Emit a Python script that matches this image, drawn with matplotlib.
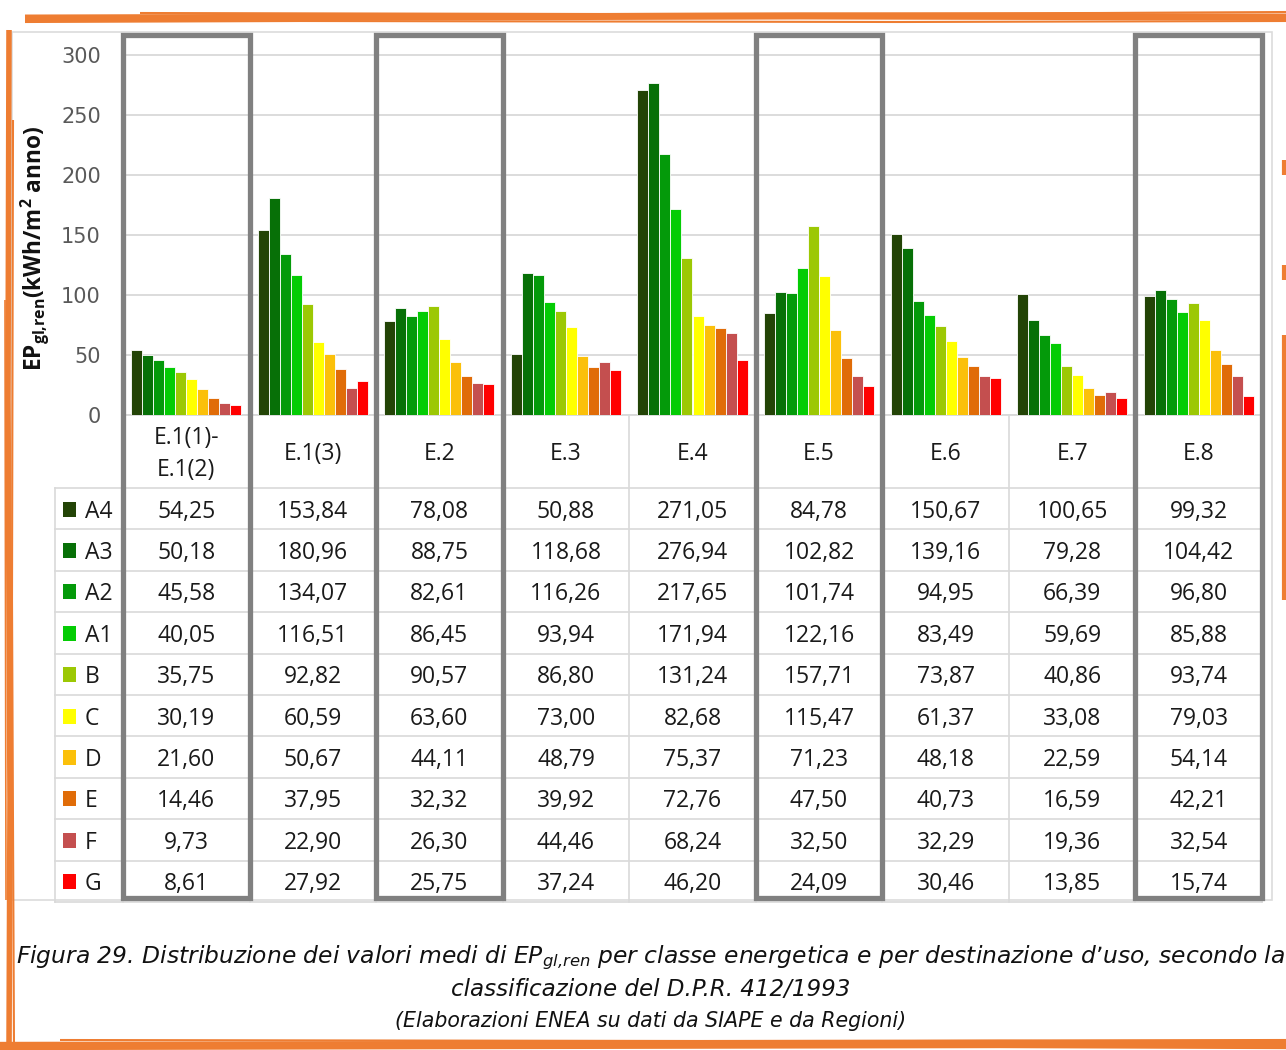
import matplotlib

matplotlib.use("Agg")
import matplotlib.pyplot as plt
from matplotlib.patches import Rectangle

W, H = 1286, 1050

# dati: EPgl,ren medio per classe energetica e destinazione d'uso
categorie = ["E.1(1)-\nE.1(2)", "E.1(3)", "E.2", "E.3", "E.4", "E.5", "E.6", "E.7", "E.8"]
classi = ["A4", "A3", "A2", "A1", "B", "C", "D", "E", "F", "G"]
a4 = [54.25, 153.84, 78.08, 50.88, 271.05, 84.78, 150.67, 100.65, 99.32]
a3 = [50.18, 180.96, 88.75, 118.68, 276.94, 102.82, 139.16, 79.28, 104.42]
a2 = [45.58, 134.07, 82.61, 116.26, 217.65, 101.74, 94.95, 66.39, 96.80]
a1 = [40.05, 116.51, 86.45, 93.94, 171.94, 122.16, 83.49, 59.69, 85.88]
b = [35.75, 92.82, 90.57, 86.80, 131.24, 157.71, 73.87, 40.86, 93.74]
c = [30.19, 60.59, 63.60, 73.00, 82.68, 115.47, 61.37, 33.08, 79.03]
d = [21.60, 50.67, 44.11, 48.79, 75.37, 71.23, 48.18, 22.59, 54.14]
e = [14.46, 37.95, 32.32, 39.92, 72.76, 47.50, 40.73, 16.59, 42.21]
f = [9.73, 22.90, 26.30, 44.46, 68.24, 32.50, 32.29, 19.36, 32.54]
g = [8.61, 27.92, 25.75, 37.24, 46.20, 24.09, 30.46, 13.85, 15.74]
serie = [a4, a3, a2, a1, b, c, d, e, f, g]
colori = ["#234406", "#077007", "#049a0a", "#04cc04", "#9cc804",
          "#ffff00", "#fbc00a", "#e06c08", "#c44f4f", "#ff0000"]
evidenziate = [0, 2, 5, 8]  # colonne incorniciate

GRIGIO_GRIGLIA = "#d9d9d9"
GRIGIO_BOX = "#808080"
TESTO = "#1a1a1a"
ARANCIO = "#ee7d32"

plt.rcParams["mathtext.default"] = "regular"

fig = plt.figure(figsize=(W / 100, H / 100), dpi=100)


def px(x0, y0, x1, y1):
    """rettangolo in pixel (origine in alto a sinistra) -> frazioni figura"""
    return [x0 / W, 1 - y1 / H, (x1 - x0) / W, (y1 - y0) / H]


# sfondo: bordo area grafico
bg = fig.add_axes([0, 0, 1, 1], zorder=-5)
bg.set_xlim(0, W)
bg.set_ylim(H, 0)
bg.axis("off")
bg.add_patch(Rectangle((12, 32), 1272 - 12, 868, fill=False, ec="#dcdcdc", lw=1.2))

# istogramma
X0, X1, Y0, Y1 = 123, 1262, 35, 415
ax = fig.add_axes(px(X0, Y0, X1, Y1))
n = len(categorie)
ymax = (Y1 - Y0) / 1.2  # 60 px ogni 50
ax.set_xlim(-0.5, n - 0.5)
ax.set_ylim(0, ymax)
larg = 0.087
for j, (vals, col) in enumerate(zip(serie, colori)):
    xs = [i + (j - 4.5) * larg for i in range(n)]
    ax.bar(xs, vals, width=larg, color=col, edgecolor="white", linewidth=0.6, zorder=3)
ax.set_yticks(range(0, 301, 50))
ax.set_xticks([])
ax.tick_params(axis="y", length=0, pad=16, labelsize=15, labelcolor="#595959")
ax.grid(axis="y", color=GRIGIO_GRIGLIA, lw=1.3, zorder=0)
for s in ["top", "right", "left"]:
    ax.spines[s].set_visible(False)
ax.spines["bottom"].set_color(GRIGIO_GRIGLIA)
ax.spines["bottom"].set_linewidth(1.3)

fig.text(35 / W, 1 - 248 / H, r"EP$_{gl{,}ren}$(kWh/m$^2$ anno)", rotation=90,
         ha="center", va="center", fontsize=16.3, fontweight="bold",
         family="Open Sans", color="#111111")

# tabella dati
T0, T1 = 415, 902
HEAD = 73 / 41.4
tab = fig.add_axes(px(X0, T0, X1, T1))
tab.set_xlim(-0.5, n - 0.5)
tab.set_ylim(HEAD + len(classi), 0)
tab.axis("off")
sinistra = -0.5 - (X0 - 55) / ((X1 - X0) / n)
dy = 0.07
kw = dict(ha="center", va="center", fontsize=16.5, color=TESTO, family="Open Sans")
for i, cat in enumerate(categorie):
    tab.text(i, HEAD / 2 + dy, cat, linespacing=1.45, **kw)
    for r, vals in enumerate(serie):
        tab.text(i, HEAD + r + 0.5 + dy, f"{vals[i]:.2f}".replace(".", ","), **kw)
for r, (cl, col) in enumerate(zip(classi, colori)):
    tab.add_patch(Rectangle((sinistra + 0.06, HEAD + r + 0.33), 0.105, 0.36,
                            fc=col, ec="none", clip_on=False))
    tab.text(sinistra + 0.235, HEAD + r + 0.5 + dy, cl, ha="left", va="center",
             fontsize=16.5, color=TESTO, family="Open Sans", clip_on=False)
for r in range(len(classi) + 1):
    tab.plot([sinistra, n - 0.5], [HEAD + r] * 2, color=GRIGIO_GRIGLIA, lw=1.2,
             clip_on=False)
tab.plot([sinistra] * 2, [HEAD, HEAD + len(classi)], color=GRIGIO_GRIGLIA, lw=1.2,
         clip_on=False)
for i in range(n + 1):
    tab.plot([i - 0.5] * 2, [0, HEAD + len(classi)], color=GRIGIO_GRIGLIA, lw=1.2,
             clip_on=False)

# cornici grigie sulle colonne evidenziate
top = fig.add_axes(px(X0, Y0, X1, 898), zorder=10)
top.set_xlim(-0.5, n - 0.5)
top.set_ylim(0, 1)
top.axis("off")
for i in evidenziate:
    top.add_patch(Rectangle((i - 0.5, 0), 1, 1, fill=False, ec=GRIGIO_BOX, lw=3.8,
                            clip_on=False))

# didascalia
cap = dict(ha="center", va="center", style="italic", family="DejaVu Sans",
           color="#111111")
fig.text(651 / W, 1 - 958 / H,
         r"Figura 29. Distribuzione dei valori medi di EP$_{gl{,}ren}$ per classe energetica"
         " e per destinazione d’uso, secondo la", fontsize=16.8, **cap)
fig.text(651 / W, 1 - 990 / H, "classificazione del D.P.R. 412/1993",
         fontsize=16.6, **cap)
fig.text(651 / W, 1 - 1021 / H, "(Elaborazioni ENEA su dati da SIAPE e da Regioni)",
         fontsize=14.8, **cap)

# cornice arancione "a pennarello"
fg = fig.add_axes([0, 0, 1, 1], zorder=20)
fg.set_xlim(0, W)
fg.set_ylim(H, 0)
fg.axis("off")
tratti = [
    ([25, 400, 800, 1286], [18, 17, 16, 17], 5),
    ([140, 600, 1100, 1286], [13, 14, 13, 12], 1.5),
    ([25, 300, 900, 1286], [22, 21, 22, 21], 1.5),
    ([0, 500, 1000, 1286], [1046, 1045, 1044, 1045], 6),
    ([60, 700, 1286], [1040, 1041, 1040], 1.5),
    ([9, 8, 10, 9], [30, 400, 800, 1050], 4),
    ([13, 12, 14], [120, 600, 1050], 1.5),
    ([5, 6], [300, 900], 1.2),
    ([1284, 1284], [335, 600], 3),
    ([1284, 1284], [160, 175], 3),
    ([1284, 1284], [265, 280], 3),
]
for xs, ys, lw in tratti:
    fg.plot(xs, ys, color=ARANCIO, lw=lw, solid_capstyle="butt")

fig.savefig("out.png", dpi=100)
